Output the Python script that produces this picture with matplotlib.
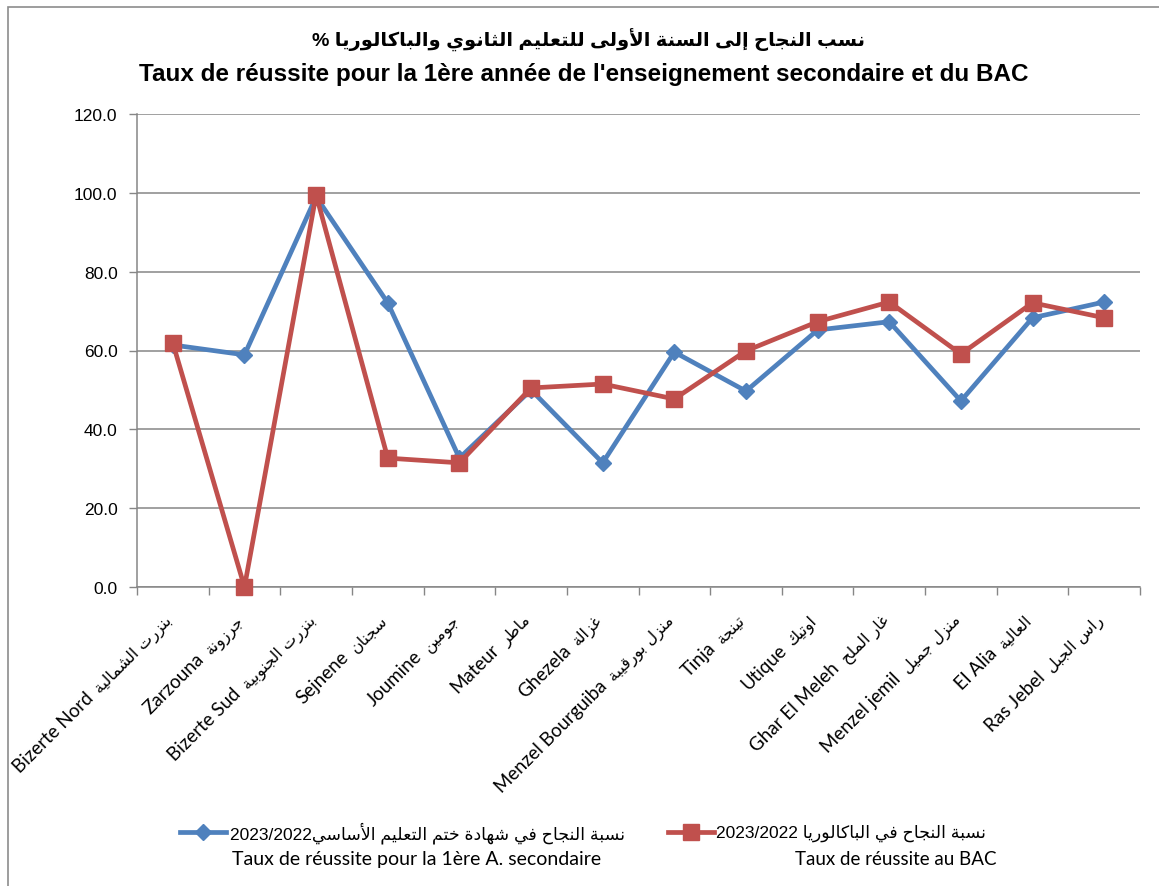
import unicodedata

import numpy as np
import matplotlib
matplotlib.use("Agg")
import matplotlib.pyplot as plt
from matplotlib.lines import Line2D
from matplotlib.patches import Rectangle
from matplotlib.transforms import ScaledTranslation


# --- minimal Arabic shaping (presentation forms) + reversal for display ---
FORMS = {}
for rng, only_new in ((range(0xFE70, 0xFF00), False), (range(0xFB50, 0xFE00), True)):
    for cp in rng:
        d = unicodedata.decomposition(chr(cp))
        if not d.startswith('<'):
            continue
        tag, *codes = d.split()
        if tag not in ('<isolated>', '<final>', '<initial>', '<medial>'):
            continue
        key = ''.join(chr(int(c, 16)) for c in codes)
        if only_new and key in FORMS:
            continue
        FORMS.setdefault(key, {})[tag[1:-1]] = chr(cp)

ALEFS = '\u0622\u0623\u0625\u0627'


def ar(s):
    units = []  # [key, marks]
    i = 0
    while i < len(s):
        ch = s[i]
        if unicodedata.combining(ch) and units:
            units[-1][1] += ch
            i += 1
            continue
        if ch == '\u0644' and i + 1 < len(s) and s[i + 1] in ALEFS:
            units.append([ch + s[i + 1], ''])
            i += 2
            continue
        units.append([ch, ''])
        i += 1

    def fwd(k):
        f = FORMS.get(k, {})
        return 'initial' in f or 'medial' in f

    def back(k):
        return 'final' in FORMS.get(k, {})

    out = []
    for j, (k, marks) in enumerate(units):
        f = FORMS.get(k)
        if not f:
            out.append(k + marks)
            continue
        p = j > 0 and fwd(units[j - 1][0]) and back(k)
        n = j + 1 < len(units) and fwd(k) and back(units[j + 1][0])
        if p and n and 'medial' in f:
            g = f['medial']
        elif p and 'final' in f:
            g = f['final']
        elif n and 'initial' in f:
            g = f['initial']
        else:
            g = f.get('isolated', k)
        out.append(g + marks)
    return ''.join(out[::-1])


# --- data ---
latin = ["Bizerte Nord", "Zarzouna", "Bizerte Sud", "Sejnene", "Joumine",
         "Mateur", "Ghezela", "Menzel Bourguiba", "Tinja", "Utique",
         "Ghar El Meleh", "Menzel jemil", "El Alia", "Ras Jebel"]
arabic = ["بنزرت الشمالية", "جرزونة", "بنزرت الجنوبية", "سجنان", "جومين",
          "ماطر", "غزالة", "منزل بورقيبة", "تينجة", "اوتيك",
          "غار الملح", "منزل جميل", "العالية", "راس الجبل"]
taux_1ere = [61.4, 58.9, 99.0, 72.1, 32.7, 50.0, 31.5, 59.6, 49.7, 65.2,
             67.3, 47.2, 68.3, 72.3]
taux_bac = [61.9, 0.0, 99.5, 32.7, 31.5, 50.5, 51.5, 47.7, 59.9, 67.3,
            72.3, 59.1, 72.1, 68.3]

title_ar = "نسب النجاح إلى السنة الأولى للتعليم الثانوي والباكالوريا"
title_fr = "Taux de réussite pour la 1ère année de l'enseignement secondaire et du BAC"
leg1_ar = "نسبة النجاح في شهادة ختم التعليم الأساسي"
leg1_fr = "Taux de réussite pour la 1ère A. secondaire"
leg2_ar = "نسبة النجاح في الباكالوريا"
leg2_fr = "Taux de réussite au BAC"
year = "2023/2022"

FAM = ['Liberation Sans', 'DejaVu Sans']
FAM2 = ['Lato', 'DejaVu Sans']
plt.rcParams['font.family'] = FAM

BLUE = '#4F81BD'
RED = '#C0504D'
GRID = '#868686'

fig = plt.figure(figsize=(11.59, 8.87), dpi=100)
fig.patches.append(Rectangle((8 / 1159, -0.01), 1.05, 1 - 8 / 887 + 0.01,
                             transform=fig.transFigure, fill=False,
                             edgecolor='#8c8c8c', linewidth=1.2))

ax = fig.add_axes([137 / 1159, 1 - 588 / 887, (1140 - 137) / 1159, (588 - 115) / 887])
x = np.arange(len(latin))
ax.plot(x, taux_1ere, color=BLUE, lw=3.4, marker='D', markersize=8.5,
        zorder=3, clip_on=False)
ax.plot(x, taux_bac, color=RED, lw=3.4, marker='s', markersize=11.5,
        zorder=4, clip_on=False)

ax.set_xlim(-0.5, len(latin) - 0.5)
ax.set_ylim(0, 120)
ax.set_yticks(np.arange(0, 121, 20))
ax.set_yticklabels([f"{v:.1f}" for v in np.arange(0, 121, 20)], fontsize=12.5)
ax.yaxis.grid(True, color=GRID, lw=1.1)
ax.set_axisbelow(True)

# category labels: French part + Arabic part, rotated 45 degrees
ax.set_xticks([])
ax.set_xticks(np.arange(-0.5, len(latin)), minor=True)
ax.tick_params(axis='x', which='minor', length=6, color=GRID, width=1)
ax.tick_params(axis='y', length=6, color=GRID, width=1, pad=8)

renderer = fig.canvas.get_renderer()
base = ax.get_xaxis_transform() + ScaledTranslation(0.0, -0.33, fig.dpi_scale_trans)
c45 = np.cos(np.pi / 4)
for xi, l, a in zip(x, latin, arabic):
    ax.text(xi, 0, ar(a), transform=base, rotation=45, rotation_mode='anchor',
            ha='right', va='baseline', fontsize=11.5, family='DejaVu Sans',
            clip_on=False)
    tmp = fig.text(0, 0, ar(a), fontsize=11.5, family='DejaVu Sans')
    w = tmp.get_window_extent(renderer).width
    tmp.remove()
    off = (w + 8) / fig.dpi
    ax.text(xi, 0, l, rotation=45, rotation_mode='anchor', ha='right',
            va='baseline', fontsize=13.5, family='Lato', clip_on=False,
            transform=base + ScaledTranslation(-off * c45, -off * c45,
                                               fig.dpi_scale_trans))

for side in ('top', 'right'):
    ax.spines[side].set_visible(False)
for side in ('left', 'bottom'):
    ax.spines[side].set_color(GRID)
    ax.spines[side].set_linewidth(1.1)

fig.text(589 / 1159, 1 - 40 / 887, "% " + ar(title_ar), ha='center', va='center',
         fontsize=14, fontweight='bold')
fig.text(584 / 1159, 1 - 75 / 887, title_fr, ha='center', va='center',
         fontsize=17.5, fontweight='bold')

# legend drawn by hand
for x0, col, mk, ms in ((180, BLUE, 'D', 8.5), (668, RED, 's', 11.5)):
    fig.add_artist(Line2D([x0 / 1159, (x0 + 46) / 1159], [1 - 833 / 887] * 2,
                          color=col, lw=3.4, transform=fig.transFigure))
    fig.add_artist(Line2D([(x0 + 23) / 1159], [1 - 833 / 887], color=col,
                          marker=mk, markersize=ms, transform=fig.transFigure))
fig.text(230 / 1159, 1 - 833 / 887, year + ar(leg1_ar), ha='left', va='center',
         fontsize=12.5)
fig.text(232 / 1159, 1 - 860 / 887, leg1_fr, ha='left', va='center', fontsize=14,
         family=FAM2)
fig.text(716 / 1159, 1 - 833 / 887, year + " " + ar(leg2_ar), ha='left',
         va='center', fontsize=12.5)
fig.text(996 / 1159, 1 - 860 / 887, leg2_fr, ha='right', va='center', fontsize=13.5,
         family=FAM2)

fig.savefig("out.png", dpi=100)
